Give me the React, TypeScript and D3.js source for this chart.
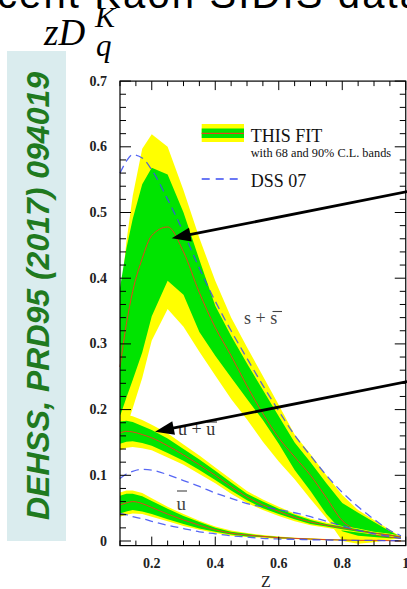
import React from 'react';
import * as d3 from 'd3';

const W = 407;
const H = 589;

// z grid shared by all curves
const zGrid = [0.1, 0.12, 0.14, 0.17, 0.2, 0.25, 0.3, 0.35, 0.4, 0.45, 0.5, 0.55, 0.6, 0.65, 0.7, 0.75, 0.8, 0.85, 0.9, 0.95, 0.985];

// s + sbar
const sFit = [0.265, 0.33, 0.38, 0.43, 0.465, 0.478, 0.44, 0.378, 0.325, 0.282, 0.236, 0.194, 0.157, 0.128, 0.1, 0.066, 0.031, 0.016, 0.01, 0.006, 0.004];
const sG68hi = [0.385, 0.445, 0.49, 0.543, 0.568, 0.558, 0.5, 0.428, 0.358, 0.312, 0.27, 0.23, 0.19, 0.15, 0.12, 0.088, 0.058, 0.043, 0.029, 0.015, 0.006];
const sG68lo = [0.19, 0.218, 0.245, 0.287, 0.342, 0.396, 0.375, 0.318, 0.282, 0.249, 0.216, 0.184, 0.148, 0.108, 0.076, 0.041, 0.015, 0.008, 0.006, 0.004, 0.004];
const sY90hi = [0.36, 0.455, 0.525, 0.597, 0.619, 0.6, 0.534, 0.461, 0.396, 0.34, 0.295, 0.251, 0.207, 0.162, 0.132, 0.1, 0.07, 0.047, 0.032, 0.017, 0.006];
const sY90lo = [0.15, 0.172, 0.202, 0.248, 0.305, 0.353, 0.326, 0.288, 0.252, 0.216, 0.185, 0.151, 0.121, 0.094, 0.064, 0.035, 0.0, -0.004, -0.002, 0.002, 0.004];
const sDSS = [0.56, 0.578, 0.588, 0.583, 0.565, 0.52, 0.47, 0.415, 0.365, 0.32, 0.278, 0.237, 0.198, 0.161, 0.13, 0.1, 0.074, 0.052, 0.033, 0.016, 0.008];

// u + ubar
const uFit = [0.164, 0.167, 0.166, 0.162, 0.157, 0.145, 0.131, 0.116, 0.1, 0.083, 0.067, 0.055, 0.045, 0.036, 0.029, 0.024, 0.02, 0.016, 0.012, 0.009, 0.006];
const uY90hi = [0.192, 0.192, 0.19, 0.184, 0.177, 0.164, 0.147, 0.13, 0.112, 0.094, 0.076, 0.063, 0.052, 0.042, 0.034, 0.028, 0.023, 0.019, 0.014, 0.011, 0.008];
const uG68hi = [0.182, 0.183, 0.181, 0.175, 0.169, 0.156, 0.14, 0.124, 0.107, 0.089, 0.072, 0.06, 0.049, 0.04, 0.032, 0.026, 0.022, 0.018, 0.013, 0.01, 0.007];
const uG68lo = [0.148, 0.151, 0.152, 0.149, 0.145, 0.134, 0.122, 0.108, 0.093, 0.077, 0.062, 0.05, 0.041, 0.033, 0.026, 0.022, 0.018, 0.014, 0.011, 0.008, 0.005];
const uY90lo = [0.138, 0.142, 0.143, 0.141, 0.138, 0.127, 0.116, 0.102, 0.088, 0.072, 0.058, 0.047, 0.038, 0.03, 0.024, 0.02, 0.016, 0.013, 0.01, 0.007, 0.004];
const uDSS = [0.095, 0.102, 0.106, 0.109, 0.108, 0.101, 0.092, 0.083, 0.073, 0.065, 0.057, 0.052, 0.048, 0.043, 0.037, 0.03, 0.023, 0.016, 0.011, 0.007, 0.004];

// ubar
const ubFit = [0.055, 0.058, 0.06, 0.057, 0.051, 0.041, 0.032, 0.024, 0.017, 0.012, 0.009, 0.007, 0.005, 0.004, 0.003, 0.002, 0.0015, 0.001, 0.001, 0.0005, 0.0];
const ubY90hi = [0.074, 0.077, 0.077, 0.073, 0.065, 0.052, 0.041, 0.031, 0.022, 0.016, 0.012, 0.009, 0.007, 0.005, 0.004, 0.003, 0.002, 0.002, 0.0015, 0.001, 0.0005];
const ubG68hi = [0.069, 0.072, 0.072, 0.068, 0.061, 0.049, 0.038, 0.029, 0.02, 0.014, 0.011, 0.008, 0.006, 0.0045, 0.0035, 0.0025, 0.002, 0.0015, 0.0012, 0.0008, 0.0004];
const ubG68lo = [0.042, 0.045, 0.047, 0.045, 0.041, 0.033, 0.026, 0.019, 0.014, 0.01, 0.007, 0.006, 0.004, 0.0035, 0.0025, 0.0015, 0.001, 0.0008, 0.0006, 0.0003, 0.0];
const ubY90lo = [0.037, 0.04, 0.042, 0.041, 0.037, 0.03, 0.023, 0.017, 0.012, 0.008, 0.006, 0.005, 0.003, 0.003, 0.002, 0.001, 0.0008, 0.0005, 0.0004, 0.0002, 0.0];
const ubDSS = [0.042, 0.04, 0.037, 0.034, 0.03, 0.024, 0.019, 0.014, 0.011, 0.008, 0.006, 0.004, 0.003, 0.0025, 0.002, 0.0015, 0.001, 0.001, 0.0008, 0.0005, 0.0005];

const yTickLabels = ['0', '0.1', '0.2', '0.3', '0.4', '0.5', '0.6', '0.7'];
const xTickLabels = ['0.2', '0.4', '0.6', '0.8', '1'];

const YELLOW = '#ffff00';
const GREEN = '#00e400';
const RED = '#e8401c';
const BLUE = '#3a4cf2';
const SERIF = '"Liberation Serif", "Times New Roman", serif';
const SANS = '"Liberation Sans", Arial, sans-serif';

function Arrow({ x1, y1, x2, y2 }: { x1: number; y1: number; x2: number; y2: number }) {
  const ang = Math.atan2(y2 - y1, x2 - x1);
  const L = 19;
  const Wd = 7;
  const bx = x2 - L * Math.cos(ang);
  const by = y2 - L * Math.sin(ang);
  const px = -Math.sin(ang);
  const py = Math.cos(ang);
  const pts = [
    [x2, y2],
    [bx + px * Wd, by + py * Wd],
    [bx - px * Wd, by - py * Wd],
  ];
  return (
    <g>
      <line x1={x1} y1={y1} x2={bx + 2 * Math.cos(ang)} y2={by + 2 * Math.sin(ang)} stroke="#000" strokeWidth={2.8} />
      <polygon points={pts.map((p) => p.join(',')).join(' ')} fill="#000" />
    </g>
  );
}

export default function App() {
  const x = d3.scaleLinear().domain([0.1, 1]).range([120, 405.75]);
  const y = d3.scaleLinear().domain([-0.007, 0.7]).range([545.6, 81.1]);

  const band = (lo: number[], hi: number[]) =>
    d3
      .area<number>()
      .x((d) => x(d))
      .y0((_, i) => y(lo[i]))
      .y1((_, i) => y(hi[i]))
      .curve(d3.curveLinear)(zGrid) as string;

  const line = (v: number[]) =>
    d3
      .line<number>()
      .x((d) => x(d))
      .y((_, i) => y(v[i]))
      .curve(d3.curveMonotoneX)(zGrid) as string;

  const x0 = x(0.1);
  const x1 = x(1);
  const yTop = y(0.7);
  const yBot = y(-0.007);

  const yMinor = d3.range(0, 71, 2).map((k) => k / 100);
  const xMinor = d3.range(2, 21).map((k) => k * 0.05);

  const groups = [
    { lo90: sY90lo, hi90: sY90hi, lo68: sG68lo, hi68: sG68hi, fit: sFit },
    { lo90: uY90lo, hi90: uY90hi, lo68: uG68lo, hi68: uG68hi, fit: uFit },
    { lo90: ubY90lo, hi90: ubY90hi, lo68: ubG68lo, hi68: ubG68hi, fit: ubFit },
  ];

  return (
    <svg width={W} height={H} style={{ position: 'absolute', left: 0, top: 0, background: '#fff' }}>
      <rect x={0} y={0} width={W} height={H} fill="#fff" />
      {/* clipped header text */}
      <text x={-3} y={8} fontFamily={SANS} fontSize={40} fill="#000" textLength={425} lengthAdjust="spacing">cent Kaon SIDIS data</text>

      {/* title */}
      <text fontFamily={SERIF} fontStyle="italic" fill="#000">
        <tspan x={44} y={45} fontSize={37}>zD</tspan>
        <tspan x={95} y={27} fontSize={30}>K</tspan>
        <tspan x={96} y={56} fontSize={31}>q</tspan>
      </text>

      {/* side box */}
      <rect x={7} y={51} width={59} height={490} fill="#daecee" />
      <text
        transform={`translate(48.5,296) rotate(-90)`}
        textAnchor="middle"
        fontFamily={SANS}
        fontWeight="bold"
        fontStyle="italic"
        fontSize={31}
        fill="#1f7a1f"
        textLength={448}
        lengthAdjust="spacingAndGlyphs"
      >
        DEHSS, PRD95 (2017) 094019
      </text>

      {/* bands */}
      <g>
        {groups.map((g, k) => (
          <g key={k}>
            <path d={band(g.lo90, g.hi90)} fill={YELLOW} />
            <path d={band(g.lo68, g.hi68)} fill={GREEN} />
            <path d={line(g.fit)} fill="none" stroke={RED} strokeWidth={1} />
          </g>
        ))}
        {[sDSS, uDSS, ubDSS].map((v, k) => (
          <path key={k} d={line(v)} fill="none" stroke={BLUE} strokeWidth={1.3} strokeDasharray="8,5" opacity={0.85} />
        ))}
      </g>

      {/* frame */}
      <rect x={x0} y={yTop} width={x1 - x0} height={yBot - yTop} fill="none" stroke="#000" strokeWidth={1.2} />
      {yMinor.map((v, i) => {
        const major = Math.round(v * 100) % 10 === 0;
        const len = major ? 11 : 6;
        return (
          <g key={'yt' + i}>
            <line x1={x0} x2={x0 + len} y1={y(v)} y2={y(v)} stroke="#000" strokeWidth={1} />
            <line x1={x1} x2={x1 - len} y1={y(v)} y2={y(v)} stroke="#000" strokeWidth={1} />
          </g>
        );
      })}
      {xMinor.map((v, i) => {
        const major = Math.round(v * 100) % 20 === 0;
        const len = major ? 9 : 5;
        return (
          <g key={'xt' + i}>
            <line x1={x(v)} x2={x(v)} y1={yBot} y2={yBot - len} stroke="#000" strokeWidth={1} />
            <line x1={x(v)} x2={x(v)} y1={yTop} y2={yTop + len} stroke="#000" strokeWidth={1} />
          </g>
        );
      })}

      {/* tick labels */}
      {yTickLabels.map((t, i) => (
        <text key={'yl' + i} x={107} y={y(+t) + 4.5} textAnchor="end" fontFamily={SERIF} fontWeight="bold" fontSize={14} fill="#222">
          {t}
        </text>
      ))}
      {xTickLabels.map((t, i) => (
        <text key={'xl' + i} x={x(+t)} y={568} textAnchor="middle" fontFamily={SERIF} fontWeight="bold" fontSize={14} fill="#222">
          {t}
        </text>
      ))}
      <text x={266} y={587} textAnchor="middle" fontFamily={SERIF} fontSize={16} fill="#222">Z</text>

      {/* legend */}
      <rect x={201.7} y={124} width={42.3} height={18} fill={YELLOW} />
      <rect x={201.7} y={128.5} width={42.3} height={9.5} fill={GREEN} />
      <line x1={201.7} x2={244} y1={133.3} y2={133.3} stroke={RED} strokeWidth={1.2} />
      <text x={250.7} y={141.5} fontFamily={SERIF} fontSize={18} fill="#111">THIS FIT</text>
      <text x={250.7} y={156.5} fontFamily={SERIF} fontSize={12.3} fill="#111">with 68 and 90% C.L. bands</text>
      <line x1={201.7} x2={238} y1={179} y2={179} stroke={BLUE} strokeWidth={1.3} strokeDasharray="8,6" />
      <text x={250.7} y={186.5} fontFamily={SERIF} fontSize={18} fill="#111">DSS 07</text>

      {/* curve labels */}
      <text x={244} y={324} fontFamily={SERIF} fontSize={18} fill="#444">s + s</text>
      <line x1={272.5} x2={282} y1={311.5} y2={311.5} stroke="#444" strokeWidth={1.1} />
      <text x={178} y={435} fontFamily={SERIF} fontSize={18} fill="#333">u + u</text>
      <line x1={207} x2={217} y1={422} y2={422} stroke="#333" strokeWidth={1.1} />
      <text x={176.5} y={510} fontFamily={SERIF} fontSize={19} fill="#444">u</text>
      <line x1={177} x2={187} y1={491} y2={491} stroke="#444" strokeWidth={1.1} />

      {/* arrows */}
      <Arrow x1={420} y1={189.1} x2={171.7} y2={238.3} />
      <Arrow x1={420} y1={379} x2={155} y2={431.7} />
    </svg>
  );
}
